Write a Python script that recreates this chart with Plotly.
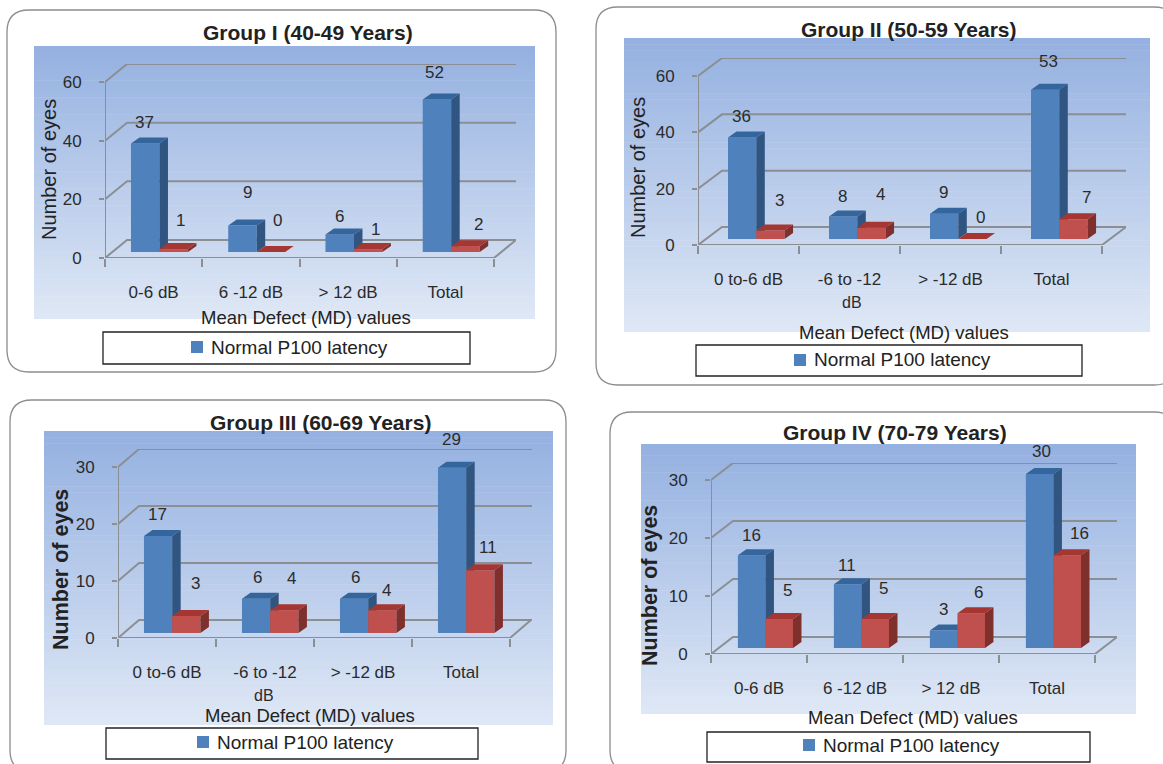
import plotly.graph_objects as go

W, H = 1163, 764
FONT = "Liberation Sans"
TXT = "#2b2b2b"
GRID = "#8b8f94"

# ---------- data ----------
titles = ["Group I (40-49 Years)", "Group II (50-59 Years)", "Group III (60-69 Years)", "Group IV (70-79 Years)"]
cats_1 = ["0-6 dB", "6 -12 dB", "> 12 dB", "Total"]
cats_2 = ["0 to-6 dB", "-6 to -12", "> -12 dB", "Total"]
cats_3 = ["0 to-6 dB", "-6 to -12", "> -12 dB", "Total"]
cats_4 = ["0-6 dB", "6 -12 dB", "> 12 dB", "Total"]
normal_1 = [37, 9, 6, 52]
abnormal_1 = [1, 0, 1, 2]
normal_2 = [36, 8, 9, 53]
abnormal_2 = [3, 4, 0, 7]
normal_3 = [17, 6, 6, 29]
abnormal_3 = [3, 4, 4, 11]
normal_4 = [16, 11, 3, 30]
abnormal_4 = [5, 5, 6, 16]
ticks_1 = [0, 20, 40, 60]
ticks_2 = [0, 20, 40, 60]
ticks_3 = [0, 10, 20, 30]
ticks_4 = [0, 10, 20, 30]
y_title = "Number of eyes"
x_title = "Mean Defect (MD) values"
legend_text = "Normal P100 latency"

# ---------- layout of each panel, in page pixels ----------
panels = [
    dict(cats=cats_1, a=normal_1, b=abnormal_1, ticks=ticks_1, title=titles[0],
         frame=(7, 10, 556, 372), bg=(34, 46, 535, 319),
         L=105, Rf=494, Rb=516, y0=258, ytop=82, ddx=22, ddy=18, base=252, bar0=0.267, barw=0.293,
         title_xy=(308, 32), ytitle_xy=(49, 169), xtitle_xy=(306, 317),
         box=(103, 332, 470, 364), sw=(197, 347), ltext=209, bold_y=False,
         adx=[-1, 5, 0, -2], ady=[21, 33, 18, 27], bdx=[7, 7, 7, 13], bdy=[29, 32, 20, 22], extra=None),
    dict(cats=cats_2, a=normal_2, b=abnormal_2, ticks=ticks_2, title=titles[1],
         frame=(596, 7, 1176, 385), bg=(624, 38, 1150, 332),
         L=698, Rf=1102, Rb=1126, y0=245, ytop=76, ddx=24, ddy=18, base=239, bar0=0.297, barw=0.28,
         title_xy=(909, 29), ytitle_xy=(638, 168), xtitle_xy=(904, 332),
         box=(696, 345, 1082, 376), sw=(800, 360), ltext=812, bold_y=False,
         adx=[-1, -1, -1, 3], ady=[21, 20, 21, 28], bdx=[9, 9, 8, 13], bdy=[30, 33, 21, 22], extra=(852, 303, "dB")),
    dict(cats=cats_3, a=normal_3, b=abnormal_3, ticks=ticks_3, title=titles[2],
         frame=(10, 400, 566, 772), bg=(44, 431, 553, 725),
         L=118, Rf=510, Rb=532, y0=638, ytop=467, ddx=21, ddy=18, base=633, bar0=0.265, barw=0.288,
         title_xy=(320, 422), ytitle_xy=(61, 570), xtitle_xy=(310, 715.5),
         box=(106, 728, 478, 759), sw=(203, 742), ltext=215, bold_y=True,
         adx=[-1, 1, 1, -1], ady=[22, 21, 21, 28], bdx=[9, 7, 4, 8], bdy=[32, 32, 20, 23], extra=(264, 695, "dB")),
    dict(cats=cats_4, a=normal_4, b=abnormal_4, ticks=ticks_4, title=titles[3],
         frame=(610, 412, 1176, 772), bg=(641, 444, 1136, 714),
         L=711, Rf=1095, Rb=1117, y0=654, ytop=480, ddx=22, ddy=17, base=648, bar0=0.28, barw=0.287,
         title_xy=(895, 432), ytitle_xy=(650, 586), xtitle_xy=(913, 717),
         box=(707, 732, 1090, 762), sw=(809, 745), ltext=821, bold_y=True,
         adx=[0, -1, 0, 2], ady=[20, 19, 21, 23], bdx=[8, 8, 7, 12], bdy=[29, 31, 21, 22], extra=None),
]

BLUE = dict(front="#4f81bd", top="#34659c", side="#2f5580")
RED = dict(front="#c0504d", top="#a53631", side="#7f2f2c")
BAR_DX, BAR_DY = 8.5, 6.0  # depth of a bar, px


def px(x):
    return x / W


def py(y):
    return 1 - y / H


def rounded(x0, y0, x1, y1, r=22):
    X0, X1 = px(x0), px(x1)
    Y0, Y1 = py(y0), py(y1)
    rx, ry = r / W, r / H
    return (f"M {X0+rx} {Y0} L {X1-rx} {Y0} Q {X1} {Y0} {X1} {Y0-ry} L {X1} {Y1+ry} Q {X1} {Y1} {X1-rx} {Y1} "
            f"L {X0+rx} {Y1} Q {X0} {Y1} {X0} {Y1+ry} L {X0} {Y0-ry} Q {X0} {Y0} {X0+rx} {Y0} Z")


def mix(c0, c1, t):
    return "rgb(%d,%d,%d)" % tuple(round(c0[i] + (c1[i] - c0[i]) * t) for i in range(3))


def page_text(x, y, text, size, color="#222222", xanchor="center", angle=0):
    return dict(x=px(x), y=py(y), xref="paper", yref="paper", text=text, showarrow=False, xanchor=xanchor,
                yanchor="middle", textangle=angle, font=dict(size=size, color=color, family=FONT))


fig = go.Figure()
shapes, annotations = [], []
layout_axes = {}

for n, p in enumerate(panels, start=1):
    xa = f"x{n}" if n > 1 else "x"
    ya = f"y{n}" if n > 1 else "y"
    xname = f"xaxis{n}" if n > 1 else "xaxis"
    yname = f"yaxis{n}" if n > 1 else "yaxis"

    S = (p["Rf"] - p["L"]) / 4
    vmax = p["ticks"][-1]
    k = (p["y0"] - p["ytop"]) / vmax
    xmax = (p["Rb"] - p["L"]) / S
    ymax = vmax + p["ddy"] / k
    gx, gy = p["ddx"] / S, p["ddy"] / k
    dx, dy = BAR_DX / S, BAR_DY / k
    base = (p["y0"] - p["base"]) / k
    w = p["barw"]

    # frame, gradient background, legend box
    shapes.append(dict(type="path", path=rounded(*p["frame"]), xref="paper", yref="paper",
                       line=dict(color="#8d8d8d", width=1.3), fillcolor="white", layer="below"))
    x0, y0, x1, y1 = p["bg"]
    bands = 48
    for i in range(bands):
        ya0 = y0 + (y1 - y0) * i / bands
        ya1 = y0 + (y1 - y0) * (i + 1) / bands + 0.6
        shapes.append(dict(type="rect", xref="paper", yref="paper", x0=px(x0), x1=px(x1),
                           y0=py(min(ya1, y1)), y1=py(ya0), line=dict(width=0), layer="below",
                           fillcolor=mix((149, 177, 225), (222, 231, 245), i / (bands - 1))))
    bx0, by0, bx1, by1 = p["box"]
    shapes.append(dict(type="rect", xref="paper", yref="paper", x0=px(bx0), x1=px(bx1), y0=py(by1), y1=py(by0),
                       line=dict(color="#222222", width=1.3), fillcolor="white", layer="below"))
    sx, sy = p["sw"]
    shapes.append(dict(type="rect", xref="paper", yref="paper", x0=px(sx - 6), x1=px(sx + 6), y0=py(sy + 6),
                       y1=py(sy - 6), line=dict(width=0), fillcolor=BLUE["front"], layer="below"))

    # axis frame, grid and floor drawn on the axes
    gxs, gys = [], []
    for t in p["ticks"]:
        gxs += [0, gx, xmax, None]
        gys += [t, t + gy, t + gy, None]
    gxs += [0, 0, None, 0, 4, 4 + gx]
    gys += [0, vmax, None, 0, 0, gy]
    fig.add_trace(go.Scatter(x=gxs, y=gys, mode="lines", line=dict(color=GRID, width=2), xaxis=xa, yaxis=ya,
                             hoverinfo="skip", showlegend=False, cliponaxis=False, zorder=0))

    # bars
    for series, col, off, z in ((p["a"], BLUE, 0.0, 1), (p["b"], RED, w, 2)):
        lefts = [i + p["bar0"] + off for i in range(4)]
        topx, topy, sidex, sidey = [], [], [], []
        for l, v in zip(lefts, series):
            r, b, t = l + w, base, base + v
            topx += [l, r, r + dx, l + dx, l, None]
            topy += [t, t, t + dy, t + dy, t, None]
            sidex += [r, r + dx, r + dx, r, r, None]
            sidey += [b, b + dy, t + dy, t, b, None]
        fig.add_trace(go.Scatter(x=sidex, y=sidey, fill="toself", fillcolor=col["side"], mode="none", xaxis=xa,
                                 yaxis=ya, hoverinfo="skip", showlegend=False, zorder=z))
        fig.add_trace(go.Scatter(x=topx, y=topy, fill="toself", fillcolor=col["top"], mode="none", xaxis=xa,
                                 yaxis=ya, hoverinfo="skip", showlegend=False, zorder=z))
        fig.add_trace(go.Bar(x=[l + w / 2 for l in lefts], y=series, base=[base] * 4, width=w,
                             marker=dict(color=col["front"], line=dict(width=0)), xaxis=xa, yaxis=ya,
                             hoverinfo="skip", showlegend=False, zorder=z))

    # data labels
    for i in range(4):
        for v, off, ddx_, ddy_ in ((p["a"][i], 0.0, p["adx"][i], p["ady"][i]),
                                   (p["b"][i], w, p["bdx"][i], p["bdy"][i])):
            annotations.append(dict(x=i + p["bar0"] + off + w / 2, y=base + v, xref=xa, yref=ya, text=str(v),
                                    showarrow=False, xshift=ddx_, yshift=ddy_, xanchor="center", yanchor="middle",
                                    font=dict(size=17, color=TXT, family=FONT)))

    # texts
    tx, ty = p["title_xy"]
    annotations.append(page_text(tx, ty, f"<b>{p['title']}</b>", 21))
    tx, ty = p["ytitle_xy"]
    ytxt = f"<b>{y_title}</b>" if p["bold_y"] else y_title
    annotations.append(page_text(tx, ty, ytxt, 21.5 if p["bold_y"] else 20, angle=-90))
    tx, ty = p["xtitle_xy"]
    annotations.append(page_text(tx, ty, x_title, 18.5))
    annotations.append(page_text(p["ltext"], p["sw"][1], legend_text, 19, xanchor="left"))
    if p["extra"]:
        tx, ty, s = p["extra"]
        annotations.append(page_text(tx, ty, s, 16, TXT))

    # axes
    layout_axes[xname] = dict(domain=[px(p["L"]), px(p["Rb"])], range=[0, xmax], anchor=ya, showgrid=False,
                              zeroline=False, showline=False, tickmode="array", tickvals=[0.5, 1.5, 2.5, 3.5],
                              ticktext=p["cats"], ticks="", ticklabelstandoff=22, tickangle=0,
                              tickfont=dict(size=17, color=TXT, family=FONT),
                              minor=dict(tickmode="array", tickvals=[0, 1, 2, 3, 4], ticks="outside", ticklen=8,
                                         tickcolor=GRID, tickwidth=1.5, showgrid=False))
    layout_axes[yname] = dict(domain=[py(p["y0"]), py(p["y0"] - (ymax * k))], range=[0, ymax], anchor=xa,
                              showgrid=False, zeroline=False, showline=False, tickmode="array",
                              tickvals=p["ticks"], ticks="outside", ticklen=5, tickcolor=GRID, tickwidth=1.5,
                              ticklabelstandoff=14, tickfont=dict(size=17, color=TXT, family=FONT))

fig.update_layout(width=W, height=H, autosize=False, margin=dict(l=0, r=0, t=0, b=0, autoexpand=False),
                  paper_bgcolor="white", plot_bgcolor="rgba(0,0,0,0)", showlegend=False, barmode="overlay",
                  shapes=shapes, annotations=annotations, **layout_axes)

fig.write_html("out.html", config=dict(displayModeBar=False),
               post_script="document.body.style.margin='0';document.body.style.overflow='hidden';")
